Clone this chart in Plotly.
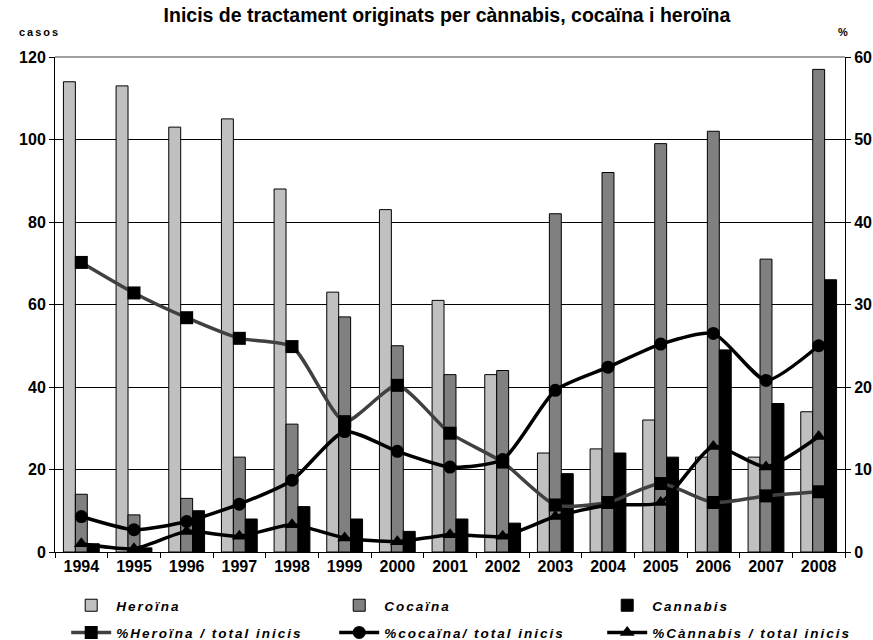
import plotly.graph_objects as go

# Annual treatment starts (cases) and share of total starts (%)
years = ["1994", "1995", "1996", "1997", "1998", "1999", "2000", "2001",
         "2002", "2003", "2004", "2005", "2006", "2007", "2008"]

heroina = [114, 113, 103, 105, 88, 63, 83, 61, 43, 24, 25, 32, 23, 23, 34]
cocaina = [14, 9, 13, 23, 31, 57, 50, 43, 44, 82, 92, 99, 102, 71, 117]
cannabis = [2, 1, 10, 8, 11, 8, 5, 8, 7, 19, 24, 23, 49, 36, 66]

pct_heroina = [35.1, 31.4, 28.4, 25.9, 24.9, 15.8, 20.2, 14.4, 10.9, 5.7, 6.0, 8.3, 6.0, 6.8, 7.3]
pct_cocaina = [4.3, 2.7, 3.7, 5.8, 8.7, 14.6, 12.2, 10.3, 11.2, 19.6, 22.4, 25.2, 26.5, 20.8, 25.0]
pct_cannabis = [1.0, 0.4, 2.5, 1.9, 3.3, 1.7, 1.25, 2.1, 1.9, 4.3, 5.7, 6.0, 12.8, 10.3, 14.0]

FONT = "Arial, Liberation Sans, sans-serif"


def spaced(text, px=2.0):
    """Wrap a label in a tspan with extra letter spacing."""
    return f'<span style="letter-spacing:{px}px">{text}</span>'


fig = go.Figure()

bar_outline = dict(color="black", width=1)
fig.add_trace(go.Bar(x=years, y=heroina, name=spaced("Heroïna"), legend="legend",
                     marker=dict(color="#C0C0C0", line=bar_outline)))
fig.add_trace(go.Bar(x=years, y=cocaina, name=spaced("Cocaïna"), legend="legend",
                     marker=dict(color="#808080", line=bar_outline)))
fig.add_trace(go.Bar(x=years, y=cannabis, name=spaced("Cannabis"), legend="legend",
                     marker=dict(color="#000000", line=bar_outline)))

line_style = dict(width=3.5, shape="spline", smoothing=0.6)
fig.add_trace(go.Scatter(x=years, y=pct_heroina, yaxis="y2", legend="legend2",
                         name=spaced("%Heroïna / total inicis"), mode="lines+markers",
                         line=dict(color="#404040", **line_style),
                         marker=dict(symbol="square", size=13, color="black")))
fig.add_trace(go.Scatter(x=years, y=pct_cocaina, yaxis="y2", legend="legend2",
                         name=spaced("%cocaïna/ total inicis"), mode="lines+markers",
                         line=dict(color="black", **line_style),
                         marker=dict(symbol="circle", size=13, color="black")))
fig.add_trace(go.Scatter(x=years, y=pct_cannabis, yaxis="y2", legend="legend2",
                         name=spaced("%Cànnabis / total inicis"), mode="lines+markers",
                         line=dict(color="black", **line_style),
                         marker=dict(symbol="triangle-up", size=13, color="black")))

tickfont = dict(family=FONT, size=16, color="black", weight="bold")
legend_font = dict(family=FONT, size=13.5, color="black", weight="bold", style="italic")
# Negative x keeps the legend rows from wrapping; the transparent border
# insets the entries so the symbols start under the first year.
legend_common = dict(orientation="h", x=-0.001, xanchor="left",
                     yanchor="middle", itemwidth=40, entrywidth=213,
                     entrywidthmode="pixels", font=legend_font,
                     borderwidth=12, bordercolor="rgba(0,0,0,0)",
                     bgcolor="rgba(0,0,0,0)")

fig.update_layout(
    template="none",
    width=873, height=640,
    margin=dict(l=55, r=28, t=57, b=88, autoexpand=False),
    paper_bgcolor="white", plot_bgcolor="white",
    barmode="group", bargap=0.32, bargroupgap=0,
    font=dict(family=FONT, color="black"),
    title=dict(text="Inicis de tractament originats per cànnabis, cocaïna i heroïna",
               x=0.512, xanchor="center", y=0.977, yanchor="middle",
               font=dict(family=FONT, size=19.5, color="black", weight="bold")),
    xaxis=dict(type="category", range=[-0.5, len(years) - 0.5], autorange=False,
               showgrid=False, showline=True, linecolor="black",
               linewidth=1, ticks="outside", tickson="boundaries", ticklen=5,
               tickcolor="black", tickfont=tickfont, zeroline=False, automargin=False),
    yaxis=dict(range=[0, 120], dtick=20, showgrid=True, gridcolor="black", gridwidth=1,
               showline=True, linecolor="black", linewidth=1, ticks="outside",
               ticklen=5, tickcolor="black", tickfont=tickfont, zeroline=False,
               automargin=False),
    yaxis2=dict(range=[0, 60], dtick=10, overlaying="y", side="right", showgrid=False,
                showline=True, linecolor="black", linewidth=1, ticks="outside",
                ticklen=5, tickcolor="black", tickfont=tickfont, zeroline=False,
                automargin=False),
    legend=dict(y=-0.108, **legend_common),
    legend2=dict(y=-0.163, **legend_common),
    shapes=[dict(type="line", xref="paper", yref="paper", x0=0, x1=1, y0=1, y1=1,
                 line=dict(color="#808080", width=1.5))],
    annotations=[
        dict(text=spaced("casos", 2), xref="paper", yref="paper", x=-0.048, y=1.05,
             xanchor="left", yanchor="middle", showarrow=False,
             font=dict(family=FONT, size=11, color="black", weight="bold")),
        dict(text="%", xref="paper", yref="paper", x=0.998, y=1.05,
             xanchor="center", yanchor="middle", showarrow=False,
             font=dict(family=FONT, size=11, color="black", weight="bold")),
    ],
)

fig.write_html("out.html")
